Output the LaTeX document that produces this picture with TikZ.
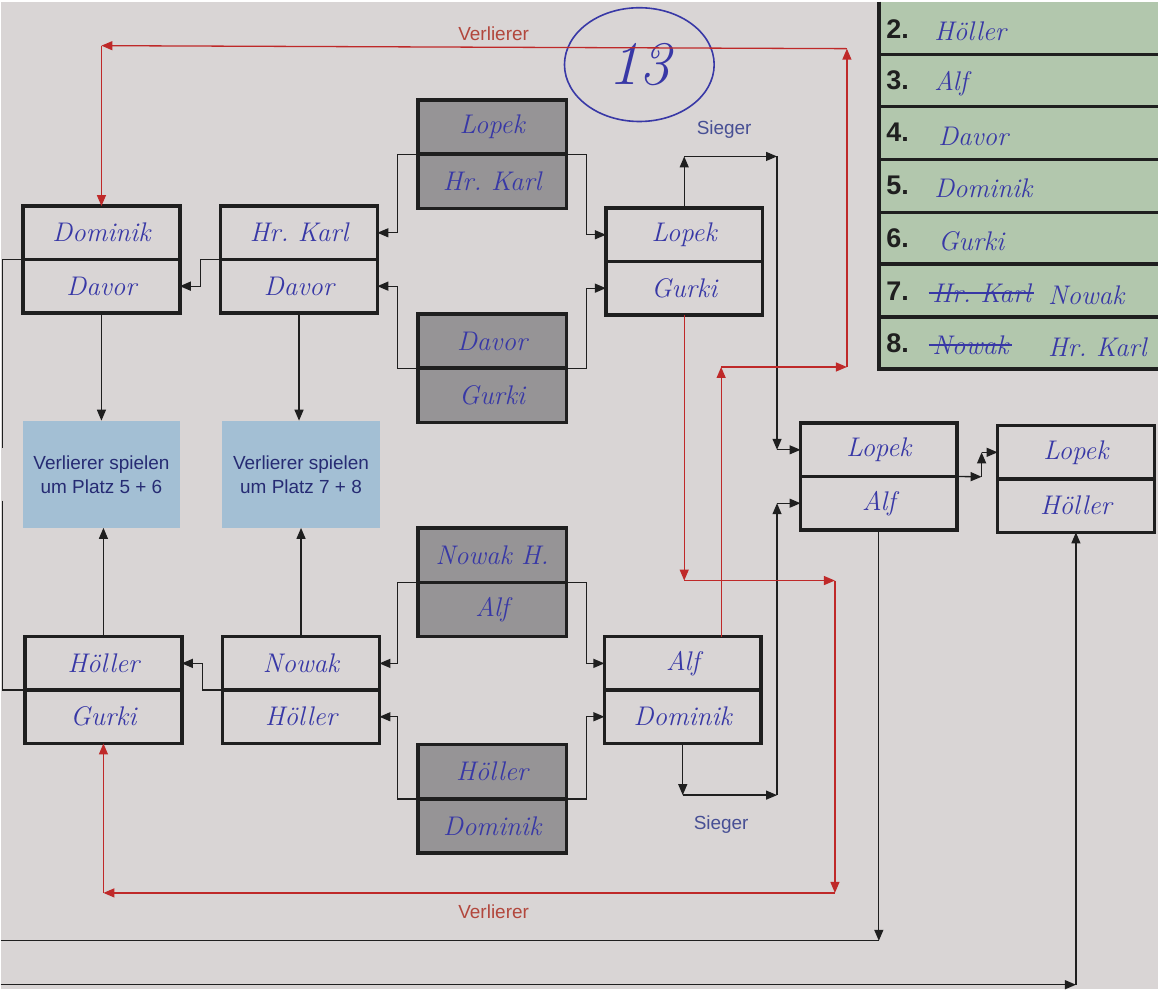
\documentclass[tikz,border=0pt]{standalone}
\usepackage{fontspec}
\usepackage{xcolor}
\usepackage{tikz}
\usetikzlibrary{positioning}
\usetikzlibrary{arrows.meta, shapes.geometric}
\newfontfamily\printfont{Liberation Sans}
\newcommand\handfont{\fontsize{27}{30}\selectfont\itshape}
\frenchspacing
\definecolor{paper}{rgb}{0.85, 0.835, 0.835}
\definecolor{rankgreen}{rgb}{0.70, 0.78, 0.68}
\definecolor{seedgray}{rgb}{0.59, 0.58, 0.59}
\definecolor{infoblue}{rgb}{0.64, 0.75, 0.83}
\definecolor{ink}{rgb}{0.22, 0.22, 0.65}
\definecolor{navy}{rgb}{0.15, 0.17, 0.45}
\definecolor{siegerblue}{rgb}{0.28, 0.31, 0.58}
\definecolor{redline}{rgb}{0.75, 0.16, 0.16}
\definecolor{redtext}{rgb}{0.70, 0.28, 0.24}
\definecolor{printblack}{rgb}{0.12, 0.12, 0.12}
\def\ink(#1){\textcolor{ink}{#1}}
\tikzstyle{match} = [rectangle, draw=printblack, line width=3.5pt, outer sep=0pt, inner sep=0pt, minimum width=157pt, minimum height=53.5pt, font=\handfont, text=ink]
\tikzstyle{seed} = [match, fill=seedgray, minimum width=149pt, minimum height=54.5pt]
\tikzstyle{info} = [rectangle, fill=infoblue, minimum width=158pt, minimum height=107pt, align=center, font=\printfont\fontsize{19}{24}\selectfont, text=navy]
\tikzstyle{wire} = [line width=1.3pt, draw=printblack]
\tikzstyle{arrow} = [wire, -{Triangle[length=11pt,width=9pt]}]
\tikzstyle{loser} = [arrow, draw=redline]
\tikzstyle{label} = [font=\printfont\fontsize{19}{19}\selectfont]
\tikzstyle{rank} = [anchor=west, font=\printfont\bfseries\fontsize{27}{27}\selectfont, text=printblack]
\tikzstyle{ranked} = [anchor=west, font=\handfont, text=ink]

\begin{document}
\begin{tikzpicture}[x=1pt, y=-1pt]
\fill[paper] (0,0) rectangle (1160,989);
% Platzierungen
\fill[rankgreen] (880,0) rectangle (1160,370);
\draw[printblack, line width=3.5pt] (880,0) -- (880,370);
\foreach \y in {53,105,158,211,263,316,368}
  \draw[printblack, line width=3.5pt] (880,\y) -- (1160,\y);
\node[rank] (n2) at (884,27) {2.};
\node[ranked] (k2) at (932,30) {Höller};
\node[rank] (n3) at (884,79) {3.};
\node[ranked] (k3) at (932,82) {Alf};
\node[rank] (n4) at (884,131) {4.};
\node[ranked] (k4) at (936,135) {Davor};
\node[rank] (n5) at (884,184) {5.};
\node[ranked] (k5) at (932,187) {Dominik};
\node[rank] (n6) at (884,237) {6.};
\node[ranked] (k6) at (936,240) {Gurki};
\node[rank] (n7) at (884,290) {7.};
\node[ranked] (x7) at (930,292) {Hr. Karl};
\node[ranked] (k7) at (1046,294) {Nowak};
\node[rank] (n8) at (884,342) {8.};
\node[ranked] (x8) at (930,344) {Nowak};
\node[ranked] (k8) at (1046,346) {Hr. Karl};
\draw[ink, line width=1.5pt] (x7.west) -- (x7.east);
\draw[ink, line width=1.5pt] (x8.west) -- (x8.east);
\node[ellipse, draw=ink, line width=1.6pt, minimum width=150pt, minimum height=114pt, font=\fontsize{62}{62}\selectfont\itshape, text=ink] (nr) at (640,63) {13};

% erste Runde
\node[seed] (q1t) at (492.5,125.5) {Lopek};
\node[seed, below=0pt of q1t] (q1b) {Hr. Karl};
\node[seed] (q2t) at (492.5,340) {Davor};
\node[seed, below=0pt of q2t] (q2b) {Gurki};
\node[seed] (q3t) at (492.5,554.5) {Nowak H.};
\node[seed, below=0pt of q3t] (q3b) {Alf};
\node[seed] (q4t) at (492.5,771.5) {Höller};
\node[seed, below=0pt of q4t] (q4b) {Dominik};
% Halbfinale
\node[match] (h1t) at (685,233.5) {Lopek};
\node[match, below=0pt of h1t] (h1b) {Gurki};
\node[match] (h2t) at (683.5,663) {Alf};
\node[match, below=0pt of h2t] (h2b) {Dominik};
% Verliererrunde
\node[match] (p1t) at (299,231.5) {Hr. Karl};
\node[match, below=0pt of p1t] (p1b) {Davor};
\node[match] (p2t) at (301,663) {Nowak};
\node[match, below=0pt of p2t] (p2b) {Höller};
\node[match] (l1t) at (101,231.5) {Dominik};
\node[match, below=0pt of l1t] (l1b) {Davor};
\node[match] (l2t) at (103,663) {Höller};
\node[match, below=0pt of l2t] (l2b) {Gurki};
% Finale
\node[match] (fint) at (880,449) {Lopek};
\node[match, below=0pt of fint] (finb) {Alf};
\node[match] (endt) at (1077.5,451.5) {Lopek};
\node[match, below=0pt of endt] (endb) {Höller};
\node[info] (v56) at (101,473.5) {Verlierer spielen\\um Platz 5 + 6};
\node[info] (v78) at (301,473.5) {Verlierer spielen\\um Platz 7 + 8};

% Verbindungen
\draw[arrow] (q1t.south west) -- ++(-20,0) |- (p1t.east);
\draw[arrow] (q2t.south west) -- ++(-20,0) |- (p1b.east);
\draw[arrow] (q1t.south east) -- ++(20,0) |- (h1t.west);
\draw[arrow] (q2t.south east) -- ++(20,0) |- (h1b.west);
\draw[arrow] (q3t.south west) -- ++(-20,0) |- (p2t.east);
\draw[arrow] (q4t.south west) -- ++(-20,0) |- (p2b.east);
\draw[arrow] (q3t.south east) -- ++(20,0) |- (h2t.west);
\draw[arrow] (q4t.south east) -- ++(20,0) |- (h2b.west);
\draw[arrow] (p1t.south west) -- ++(-20,0) |- (l1b.east);
\draw[arrow] (p2t.south west) -- ++(-20,0) |- (l2t.east);
\coordinate (cut1) at (2,447);
\coordinate (cut2) at (2,500);
\draw[wire] (l1t.south west) -| (cut1);
\draw[wire] (cut2) |- (l2t.south west);
\draw[arrow] (l1b.south) -- (v56.north);
\draw[arrow] (p1b.south) -- (p1b.south |- v78.north);
\draw[arrow] (l2t.north) -- (l2t.north |- v56.south);
\draw[arrow] (p2t.north) -- (p2t.north |- v78.south);

% Sieger
\coordinate (s1) at (685,155);
\coordinate (s2) at (778,155);
\coordinate (s3) at (778,449);
\draw[arrow] (h1t.north) -- (s1);
\draw[arrow] (s1) -- (s2);
\draw[arrow] (s2) -- (s3);
\draw[arrow] (s3) -- (fint.west);
\coordinate (s4) at (683.5,795);
\coordinate (s5) at (778,795);
\coordinate (s6) at (778,502.5);
\draw[arrow] (h2b.south) -- (s4);
\draw[arrow] (s4) -- (s5);
\draw[arrow] (s5) -- (s6);
\draw[arrow] (s6) -- (finb.west);
\node[label, text=siegerblue] (sg1) at (725,128) {Sieger};
\node[label, text=siegerblue] (sg2) at (722,825) {Sieger};
\coordinate (t1) at (983,476);
\coordinate (t2) at (983,451.5);
\draw[arrow] (fint.south east) -- (t1);
\draw[arrow] (t1) -- (t2);
\draw[arrow] (t2) -- (endt.west);
\coordinate (u0) at (0,941);
\coordinate (u1) at (880,941);
\draw[arrow] (finb.south) -- (u1);
\draw[wire] (u0) -- (u1);
\coordinate (w0) at (0,985);
\coordinate (w1) at (1077.5,985);
\draw[arrow] (w0) -- (w1);
\draw[arrow] (w1) -- (endb.south);

% Verlierer
\coordinate (r1) at (685,580);
\coordinate (r2) at (836,580);
\coordinate (r3) at (836,893);
\coordinate (r4) at (103,893);
\draw[loser] (h1b.south) -- (r1);
\draw[loser] (r1) -- (r2);
\draw[loser] (r2) -- (r3);
\draw[loser] (r3) -- (r4);
\draw[loser] (r4) -- (l2b.south);
\coordinate (r5) at (722,366);
\coordinate (r6) at (848,366);
\coordinate (r7) at (848,47);
\coordinate (r8) at (101,44);
\draw[loser] ([xshift=38.5pt]h2t.north) -- (r5);
\draw[loser] (r5) -- (r6);
\draw[loser] (r6) -- (r7);
\draw[loser] (r7) -- (r8);
\draw[loser] (r8) -- (l1t.north);
\node[label, text=redtext] (vl1) at (494,32) {Verlierer};
\node[label, text=redtext] (vl2) at (494,912) {Verlierer};
\end{tikzpicture}
\end{document}
